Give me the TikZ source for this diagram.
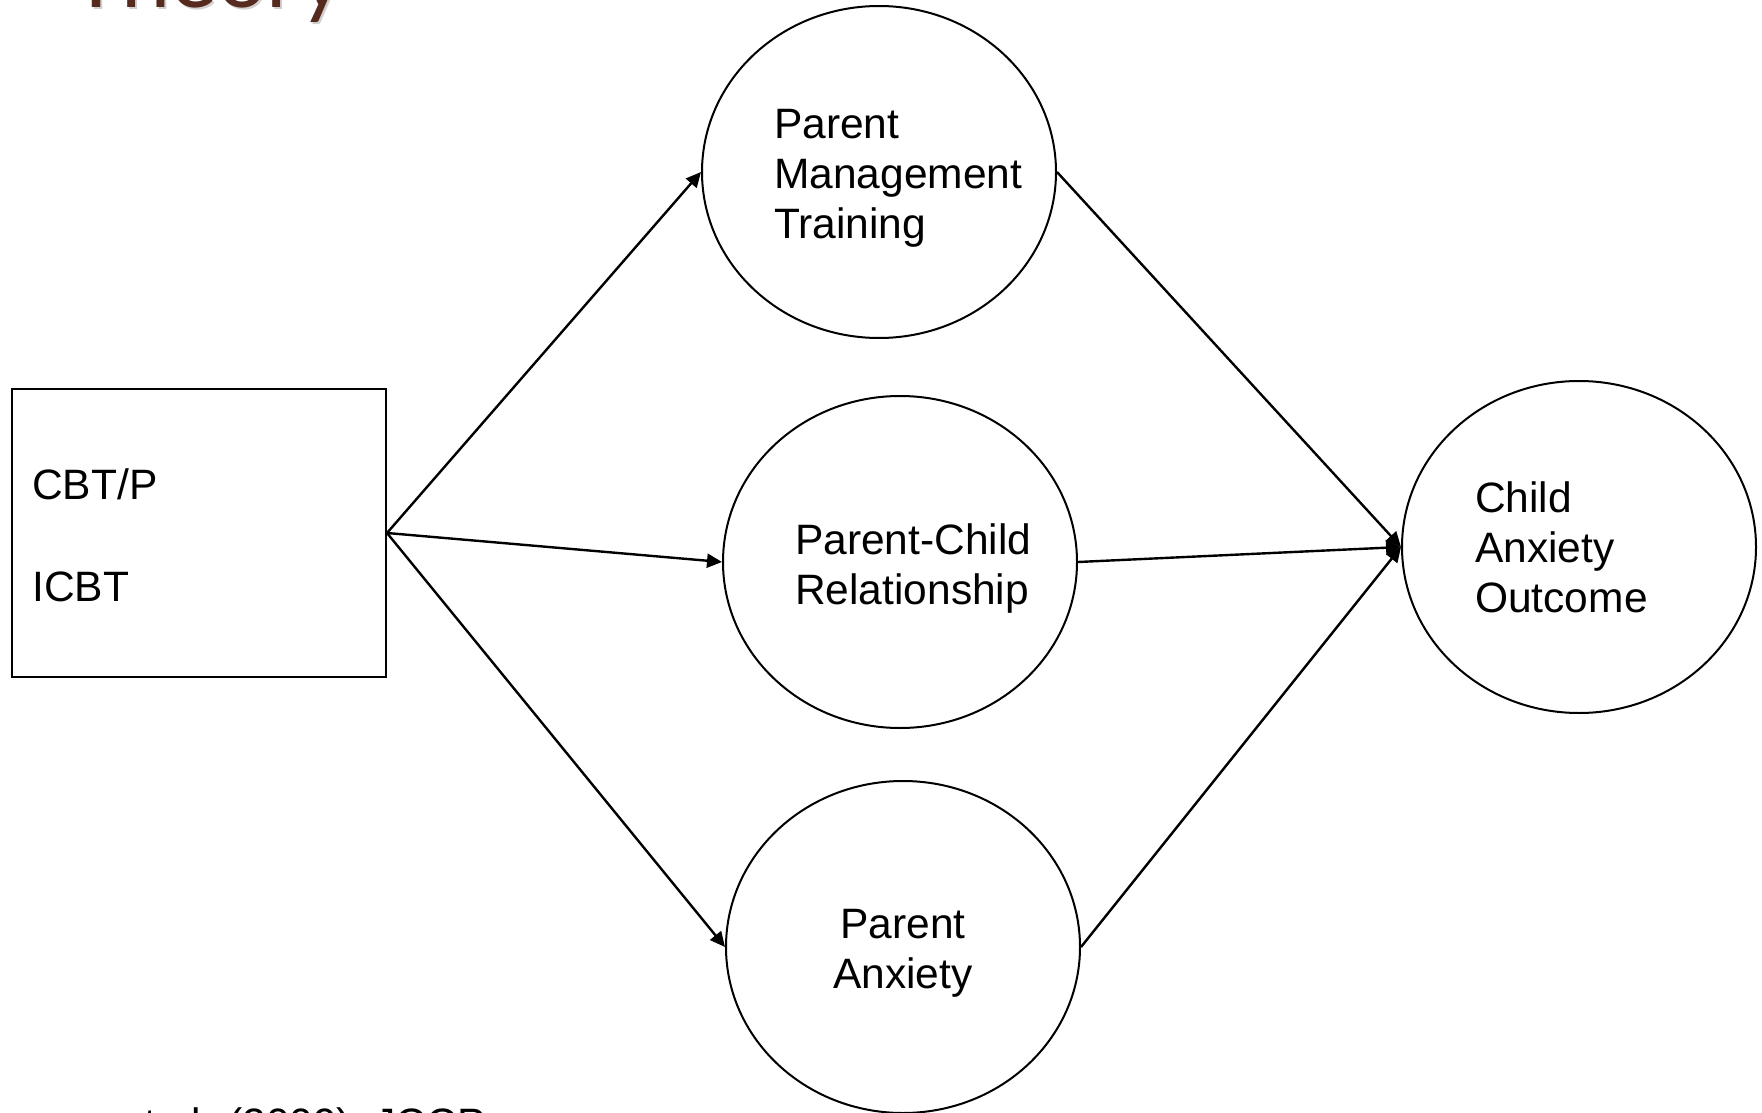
\documentclass[tikz,border=0pt]{standalone}
\usepackage{fontspec}
\setmainfont{Liberation Sans}
\newfontfamily\titlefont{Lato}
\usetikzlibrary{shapes.geometric,arrows.meta}
\definecolor{titlebrown}{HTML}{562A1E}
\begin{document}
\begin{tikzpicture}[x=1pt,y=-1pt,
  bubble/.style={draw, ellipse, line width=2pt, inner sep=0pt,
    minimum width=354pt, minimum height=332pt},
  link/.style={-{Triangle[length=15pt,width=14pt]}, line width=2.4pt},
  lbl/.style={font=\fontsize{42.5}{50}\selectfont, inner sep=0pt, align=left},
]
\useasboundingbox (0,0) rectangle (1762,1113);
\clip (0,0) rectangle (1762,1113);
% title (cut off at the top)
\node[anchor=base west, inner sep=0pt, font=\titlefont\fontsize{88}{88}\selectfont,
  text=black!30, opacity=0.6] (titleshadow) at (72,10) {Theory};
\node[anchor=base west, inner sep=0pt, font=\titlefont\fontsize{88}{88}\selectfont,
  text=titlebrown] (title) at (70,8) {Theory};
% box
\node[draw, line width=2pt, minimum width=374pt, minimum height=288pt, inner sep=0pt] (box) at (199,533) {};
\node[lbl, anchor=north west] (tbox) at (32,468) {CBT/P\\[52pt]ICBT};
% ellipses
\node[bubble] (pmt) at (879,172) {};
\node[bubble] (pcr) at (900,562) {};
\node[bubble] (pa) at (903,947) {};
\node[bubble] (cao) at (1579,547) {};
% texts
\node[lbl, anchor=north west] (tpmt) at (774,109) {Parent\\Management\\Training};
\node[lbl, anchor=north west] (tpcr) at (795,523) {Parent-Child\\Relationship};
\node[lbl, anchor=north, align=center] (tpa) at (903,909) {Parent\\Anxiety};
\node[lbl, anchor=north west] (tcao) at (1475,481) {Child\\Anxiety\\Outcome};
% citation (cut off)
\node[anchor=base east, inner sep=0pt, font=\fontsize{42.5}{50}\selectfont] (cite) at (486,1138) {orman et al. (2009); JCCP};
% connectors
\draw[link] (box.east) -- (pmt.west);
\draw[link] (box.east) -- (pcr.west);
\draw[link] (box.east) -- (pa.west);
\draw[link] (pmt.east) -- (cao.west);
\draw[link] (pcr.east) -- (cao.west);
\draw[link] (pa.east) -- (cao.west);
\end{tikzpicture}
\end{document}
